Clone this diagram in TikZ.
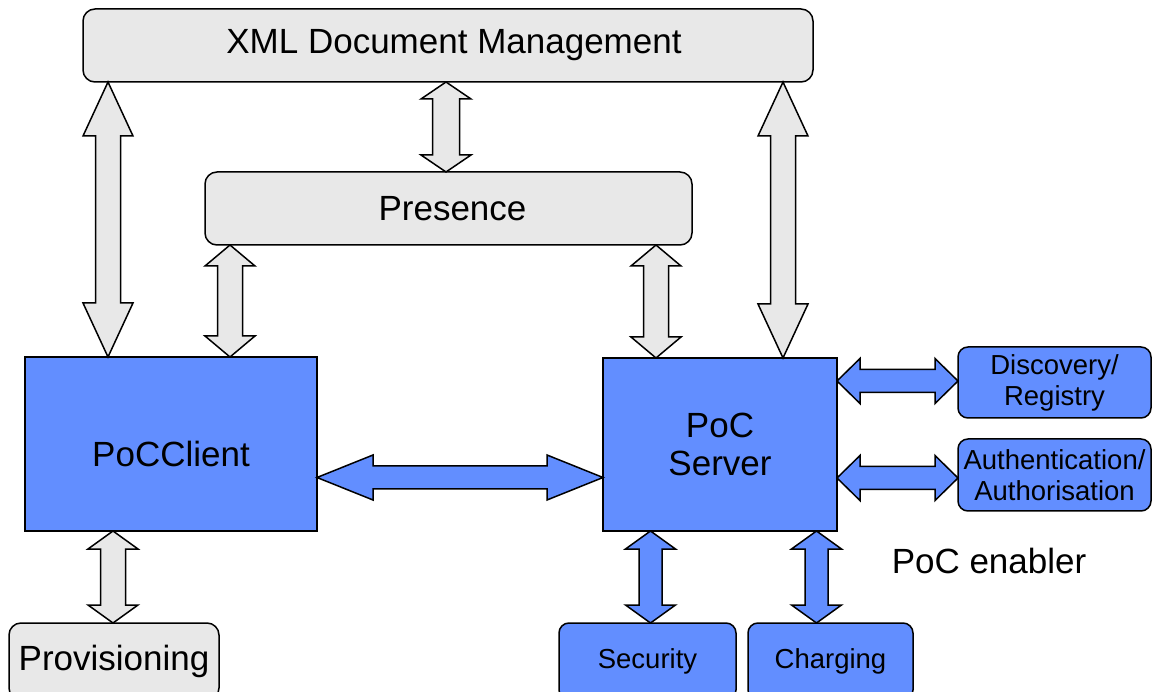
\documentclass[tikz,border=0pt]{standalone}
\usepackage{fontspec}
\setmainfont{Liberation Sans}
\usetikzlibrary{calc}
\definecolor{pocblue}{RGB}{98,142,255}
\definecolor{boxgray}{RGB}{232,232,232}
% block arrows: style, first tip, second tip, half shaft, half head, head length
\newcommand\varrow[6]{%
	\filldraw[#1] (#2) -- ++(#5,#6) -- ++({#4-#5},0) -- ($(#3)+(#4,-#6)$)
		-- ++({#5-#4},0) -- (#3) -- ++(-#5,-#6) -- ++({#5-#4},0)
		-- ($(#2)+(-#4,#6)$) -- ++({#4-#5},0) -- cycle;}
\newcommand\harrow[6]{%
	\filldraw[#1] (#2) -- ++(#6,-#5) -- ++(0,{#5-#4}) -- ($(#3)+(-#6,-#4)$)
		-- ++(0,{#4-#5}) -- (#3) -- ++(-#6,#5) -- ++(0,{#4-#5})
		-- ($(#2)+(#6,#4)$) -- ++(0,{#5-#4}) -- cycle;}
\begin{document}
\begin{tikzpicture}[x=1pt,y=-1pt,line width=1.5pt,
	big/.style={font=\fontsize{35}{38}\selectfont},
	small/.style={font=\fontsize{27.5}{31}\selectfont},
	graybox/.style={draw,fill=boxgray,rounded corners=12pt,inner sep=0pt,outer sep=0pt,align=center},
	bluebox/.style={draw,fill=pocblue,inner sep=0pt,outer sep=0pt,align=center},
	roundblue/.style={bluebox,rounded corners=10pt},
	grayarrow/.style={draw,fill=boxgray,line join=miter},
	bluearrow/.style={draw,fill=pocblue,line join=miter}]
	\useasboundingbox (0,0) rectangle (1152,692);
	\clip (0,0) rectangle (1152,692);
	% boxes
	\node[graybox,big,minimum width=730pt,minimum height=73pt] (xml) at (448,45.5) {\hspace*{12pt}XML Document Management};
	\node[graybox,big,minimum width=487pt,minimum height=73pt] (pres) at (448.5,208.5) {\hspace*{8pt}Presence};
	\node[bluebox,big,minimum width=292pt,minimum height=174pt] (cli) at (171,444) {\raisebox{-10pt}[\height][\depth]{PoCClient}};
	\node[bluebox,big,minimum width=234pt,minimum height=173pt] (srv) at (720,444.5) {PoC\\Server};
	\node[roundblue,small,minimum width=193pt,minimum height=71pt] (disc) at (1054.5,382.5) {Discovery/\\Registry};
	\node[roundblue,small,minimum width=193pt,minimum height=72pt] (auth) at (1054.5,475) {Authentication/\\Authorisation};
	\node[roundblue,small,minimum width=177pt,minimum height=77pt] (sec) at (647.5,661.5) {Security};
	\node[roundblue,small,minimum width=165pt,minimum height=77pt] (chg) at (830.5,661.5) {Charging};
	\node[graybox,big,minimum width=210pt,minimum height=77pt] (prov) at (114,661.5) {Provisioning};
	\node[big,anchor=base west,inner sep=0pt] (enabler) at (891,573) {PoC enabler};
	% gray arrows
	\varrow{grayarrow}{[xshift=25pt]xml.south west}{[xshift=83pt]cli.north west}{12.5}{25}{54}
	\varrow{grayarrow}{[xshift=-2pt]xml.south}{[xshift=-2.5pt]pres.north}{13.5}{25}{17}
	\varrow{grayarrow}{[xshift=-30pt]xml.south east}{[xshift=-54pt]srv.north east}{12.5}{25}{54}
	\varrow{grayarrow}{[xshift=25pt]pres.south west}{[xshift=205pt]cli.north west}{12.5}{25}{21}
	\varrow{grayarrow}{[xshift=-36pt]pres.south east}{[xshift=53pt]srv.north west}{12.5}{25}{21}
	\varrow{grayarrow}{[xshift=88pt]cli.south west}{[xshift=-1pt]prov.north}{12.5}{25}{18}
	% blue arrows
	\harrow{bluearrow}{[yshift=-33.5pt]cli.east}{[yshift=-33pt]srv.west}{11.5}{22.5}{56}
	\harrow{bluearrow}{[yshift=63.5pt]srv.east}{[yshift=1.5pt]disc.west}{11.5}{22.5}{23}
	\harrow{bluearrow}{[yshift=-33.5pt]srv.east}{[yshift=-3pt]auth.west}{11.5}{22.5}{23}
	\varrow{bluearrow}{[xshift=47.5pt]srv.south west}{[xshift=3pt]sec.north}{11.5}{25}{18}
	\varrow{bluearrow}{[xshift=-20.5pt]srv.south east}{[xshift=-14pt]chg.north}{11.5}{25}{18}
\end{tikzpicture}
\end{document}
